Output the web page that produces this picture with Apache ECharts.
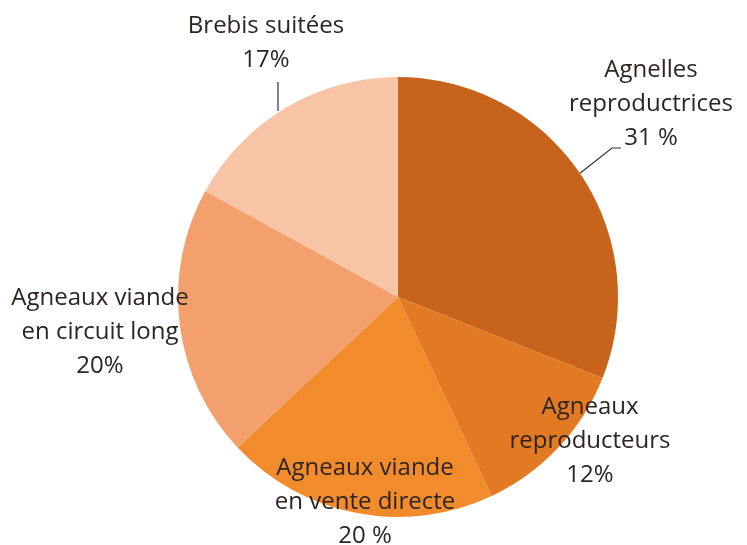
<!DOCTYPE html>
<html>
<head>
<meta charset="utf-8">
<script src="https://cdn.jsdelivr.net/npm/echarts@6/dist/echarts.min.js"></script>
<style>
  html, body { margin: 0; padding: 0; background: #fff; }
  #main { width: 747px; height: 545px; }
</style>
</head>
<body>
<div id="main"></div>
<script>
// slices, clockwise from 12 o'clock
var names = [
  "Agnelles\nreproductrices",
  "Agneaux\nreproducteurs",
  "Agneaux viande\nen vente directe",
  "Agneaux viande\nen circuit long",
  "Brebis suitées"
];
var values = [31, 12, 20, 20, 17];
var pctText = ["31 %", "12%", "20 %", "20%", "17%"];
var colors = ["#C8631C", "#E27A23", "#F28B2B", "#F3A06D", "#F8C4A6"];

// where each label sits (centre of the text block)
var labelPos = [
  [651, 104],
  [590, 441],
  [365, 502],
  [100, 332],
  [266, 43]
];

var myChart = echarts.init(document.getElementById("main"));

var data = values.map(function (v, i) {
  return {
    value: v,
    name: names[i],
    itemStyle: { color: colors[i] },
    labelLine: { show: i === 0 || i === 4 }
  };
});

var option = {
  animation: false,
  series: [
    {
      type: "pie",
      center: [398, 297],
      radius: [0, 220],
      startAngle: 90,
      clockwise: true,
      avoidLabelOverlap: false,
      label: {
        show: true,
        position: "outside",
        fontFamily: "Open Sans",
        fontSize: 24,
        lineHeight: 34,
        color: "#2e2420",
        align: "center",
        formatter: function (p) {
          return p.name + "\n" + pctText[p.dataIndex];
        }
      },
      labelLine: {
        show: true,
        length: 20,
        length2: 10,
        smooth: false,
        lineStyle: { color: "#333", width: 1.2 }
      },
      labelLayout: function (params) {
        var i = params.dataIndex;
        var pos = labelPos[i];
        var out = {
          x: pos[0],
          y: pos[1],
          align: "center",
          verticalAlign: "middle"
        };
        var p0 = params.labelLinePoints && params.labelLinePoints[0];
        if (p0 && i === 0) {
          out.labelLinePoints = [p0, [612, 148], [621, 148]];
        } else if (p0 && i === 4) {
          out.labelLinePoints = [[278, 111], [278, 82]];
        }
        return out;
      },
      data: data
    }
  ]
};
myChart.setOption(option);
</script>
</body>
</html>
